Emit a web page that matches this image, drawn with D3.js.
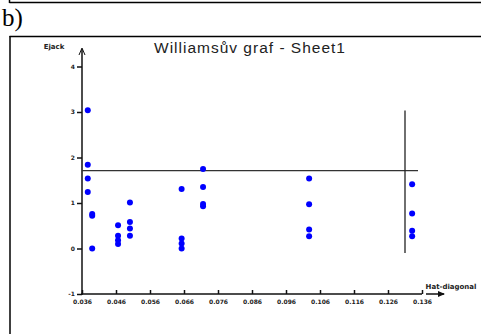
<!DOCTYPE html>
<html>
<head>
<meta charset="utf-8">
<script src="https://cdn.jsdelivr.net/npm/d3@7"></script>
<style>
  html, body { margin: 0; padding: 0; background: #fff; }
  svg { display: block; }
</style>
</head>
<body>
<svg id="chart" width="481" height="334"></svg>
<script>
// leverage (hat diagonal) and jackknife residuals
const hatValues = [
  0.0377, 0.0377, 0.0377, 0.0377, 0.0390, 0.0390, 0.0390,
  0.0466, 0.0466, 0.0466, 0.0466,
  0.0501, 0.0501, 0.0501, 0.0501,
  0.0653, 0.0653, 0.0653, 0.0653,
  0.0716, 0.0716, 0.0716, 0.0716,
  0.1028, 0.1028, 0.1028, 0.1028,
  0.1331, 0.1331, 0.1331, 0.1331
]
const ejackValues = [
  3.04, 1.84, 1.54, 1.24, 0.76, 0.72, 0.00,
  0.51, 0.28, 0.18, 0.10,
  1.01, 0.58, 0.44, 0.28,
  1.31, 0.22, 0.11, 0.00,
  1.75, 1.35, 0.98, 0.93,
  1.54, 0.97, 0.42, 0.27,
  1.41, 0.77, 0.39, 0.27
]
const xTicks = [0.036, 0.046, 0.056, 0.066, 0.076, 0.086, 0.096, 0.106, 0.116, 0.126, 0.136]
const xTickLabels = ['0.036', '0.046', '0.056', '0.066', '0.076', '0.086', '0.096', '0.106', '0.116', '0.126', '0.136']
const yTicks = [-1, 0, 1, 2, 3, 4]
const yTickLabels = ['-1', '0', '1', '2', '3', '4']
const hLimit = 1.71   // critical residual line
const vLimit = 0.131  // critical leverage line

const svg = d3.select('#chart')

const x = d3.scaleLinear().domain([0.036, 0.136]).range([82, 422])
const y = d3.scaleLinear().domain([-1, 4]).range([294, 66.5])

// frame bits from the surrounding document
svg.append('line').attr('x1', 9.5).attr('x2', 481).attr('y1', 2.5).attr('y2', 2.5)
  .attr('stroke', '#000').attr('stroke-width', 1.5)
svg.append('line').attr('x1', 9.5).attr('x2', 9.5).attr('y1', 0).attr('y2', 3)
  .attr('stroke', '#000').attr('stroke-width', 1.5)
svg.append('text').attr('x', 2).attr('y', 26)
  .style('font-family', '"Liberation Serif", serif').style('font-size', '25px')
  .text('b)')
svg.append('line').attr('x1', 9.5).attr('x2', 481).attr('y1', 36.5).attr('y2', 36.5)
  .attr('stroke', '#000').attr('stroke-width', 1.5)
svg.append('line').attr('x1', 10).attr('x2', 10).attr('y1', 36).attr('y2', 334)
  .attr('stroke', '#000').attr('stroke-width', 1.5)

// title
svg.append('text').attr('x', 250).attr('y', 53)
  .attr('text-anchor', 'middle')
  .style('font-family', '"Liberation Sans", Arial, sans-serif').style('font-size', '15.5px')
  .style('letter-spacing', '1px')
  .attr('fill', '#222')
  .text('Williamsův graf - Sheet1')

const axisColor = '#111'

// y axis with arrow
svg.append('line').attr('x1', 82).attr('x2', 82).attr('y1', 49).attr('y2', 295)
  .attr('stroke', axisColor).attr('stroke-width', 1.5)
svg.append('path').attr('d', 'M79,55 L82,48 L85,55').attr('fill', 'none')
  .attr('stroke', axisColor).attr('stroke-width', 1)
svg.append('text').attr('x', 54).attr('y', 49).attr('text-anchor', 'middle')
  .style('font-family', '"DejaVu Sans", sans-serif').style('font-size', '7px')
  .style('font-weight', 'bold').attr('fill', '#222')
  .text('Ejack')

// x axis with arrow
svg.append('line').attr('x1', 81).attr('x2', 422).attr('y1', 294).attr('y2', 294)
  .attr('stroke', axisColor).attr('stroke-width', 1.5)
svg.append('line').attr('x1', 426).attr('x2', 444).attr('y1', 294).attr('y2', 294)
  .attr('stroke', axisColor).attr('stroke-width', 1.5)
svg.append('path').attr('d', 'M438,291 L445,294 L438,297 Z').attr('fill', axisColor)
svg.append('text').attr('x', 451).attr('y', 289).attr('text-anchor', 'middle')
  .style('font-family', '"DejaVu Sans", sans-serif').style('font-size', '7px')
  .style('font-weight', 'bold').attr('fill', '#222')
  .text('Hat-diagonal')

// ticks
const xAxis = d3.axisBottom(x).tickValues(xTicks).tickSize(4)
  .tickFormat((d, i) => xTickLabels[i])
const gx = svg.append('g').attr('transform', 'translate(0,290)').call(xAxis)
gx.select('.domain').remove()
gx.selectAll('.tick line').attr('stroke', axisColor).attr('stroke-width', 1.5)
gx.selectAll('.tick text').attr('y', 10)
  .style('font-family', '"DejaVu Sans", sans-serif').style('font-size', '6px')
  .style('font-weight', 'bold').attr('fill', '#222')

const yAxis = d3.axisLeft(y).tickValues(yTicks).tickSize(5)
  .tickFormat((d, i) => yTickLabels[i])
const gy = svg.append('g').attr('transform', 'translate(82,0)').call(yAxis)
gy.select('.domain').remove()
gy.selectAll('.tick line').attr('stroke', axisColor).attr('stroke-width', 1.5)
gy.selectAll('.tick text').attr('x', -7)
  .style('font-family', '"DejaVu Sans", sans-serif').style('font-size', '6px')
  .style('font-weight', 'bold').attr('fill', '#222')

// critical lines
svg.append('line').attr('x1', x(0.036)).attr('x2', 418)
  .attr('y1', y(hLimit)).attr('y2', y(hLimit))
  .attr('stroke', '#333').attr('stroke-width', 1.3)
svg.append('line').attr('x1', x(vLimit)).attr('x2', x(vLimit))
  .attr('y1', 110.5).attr('y2', 253)
  .attr('stroke', '#222').attr('stroke-width', 1.3)

// points
const data = hatValues.map((h, i) => ({ h: h, e: ejackValues[i] }))
svg.selectAll('.pt')
  .data(data)
  .enter().append('circle')
  .attr('class', 'pt')
  .attr('cx', (d) => x(d.h))
  .attr('cy', (d) => y(d.e))
  .attr('r', 3)
  .style('fill', '#0000ff')
</script>
</body>
</html>
